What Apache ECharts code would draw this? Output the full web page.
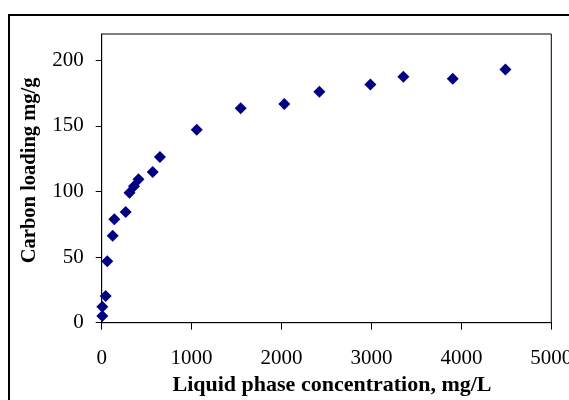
<!DOCTYPE html>
<html>
<head>
<meta charset="utf-8">
<script src="https://cdn.jsdelivr.net/npm/echarts@6/dist/echarts.min.js"></script>
<style>html,body{margin:0;padding:0;background:#fff;}#c{width:569px;height:400px;}</style>
</head>
<body>
<div id="c"></div>
<script>
// Data
var concentration = [7, 7, 44, 62, 122, 140, 267, 309, 359, 409, 567, 648, 1057, 1546, 2031, 2421, 2988, 3355, 3904, 4490];
var loading       = [5.1, 12.2, 20.3, 46.9, 66.2, 78.9, 84.4, 99.0, 104.0, 109.3, 114.8, 126.3, 147.1, 163.5, 166.6, 176.0, 181.5, 187.4, 185.9, 192.9];
var xTicks = [0, 1000, 2000, 3000, 4000, 5000];
var yTicks = [0, 50, 100, 150, 200];
var xTitle = 'Liquid phase concentration, mg/L';
var yTitle = 'Carbon loading mg/g';

var points = concentration.map(function (c, i) { return [c, loading[i]]; });
var serif = '"Liberation Serif", "Times New Roman", serif';
var plain = function (v) { return String(v); };

var chart = echarts.init(document.getElementById('c'), null, {renderer: 'canvas'});
chart.setOption({
  animation: false,
  backgroundColor: '#fff',
  graphic: [{
    type: 'rect',
    shape: {x: 9, y: 15, width: 640, height: 440},
    style: {fill: null, stroke: '#000', lineWidth: 2},
    silent: true
  }],
  grid: {
    left: 101.7, top: 34, right: 17.7, bottom: 77.3,
    outerBoundsMode: 'none', containLabel: false,
    show: true, borderColor: '#000', borderWidth: 1, backgroundColor: 'transparent'
  },
  xAxis: {
    type: 'value', min: 0, max: 5000, interval: 1000,
    name: xTitle, nameLocation: 'middle', nameGap: 63,
    nameTextStyle: {fontFamily: serif, fontSize: 22, fontWeight: 'bold', color: '#000', verticalAlign: 'middle', padding: [0, 0, 0, 11]},
    axisLine: {show: true, lineStyle: {color: '#000', width: 1}},
    axisTick: {show: true, length: 7, inside: false, lineStyle: {color: '#000'}, customValues: xTicks},
    axisLabel: {fontFamily: serif, fontSize: 21, color: '#000', margin: 25, formatter: plain, customValues: xTicks},
    splitLine: {show: false}
  },
  yAxis: {
    type: 'value', min: 0, max: 220, interval: 50,
    name: yTitle, nameLocation: 'middle', nameGap: 72, nameRotate: 90,
    nameTextStyle: {fontFamily: serif, fontSize: 20.5, fontWeight: 'bold', color: '#000', verticalAlign: 'middle', padding: [0, 0, 0, 16]},
    axisLine: {show: true, lineStyle: {color: '#000', width: 1}},
    axisTick: {show: true, length: 6, inside: false, lineStyle: {color: '#000'}, customValues: yTicks},
    axisLabel: {fontFamily: serif, fontSize: 21, color: '#000', margin: 18, formatter: plain, customValues: yTicks},
    splitLine: {show: false}
  },
  series: [{
    type: 'scatter',
    data: points,
    symbol: 'diamond',
    symbolSize: 12,
    itemStyle: {color: '#000080', opacity: 1}
  }]
});
</script>
</body>
</html>
